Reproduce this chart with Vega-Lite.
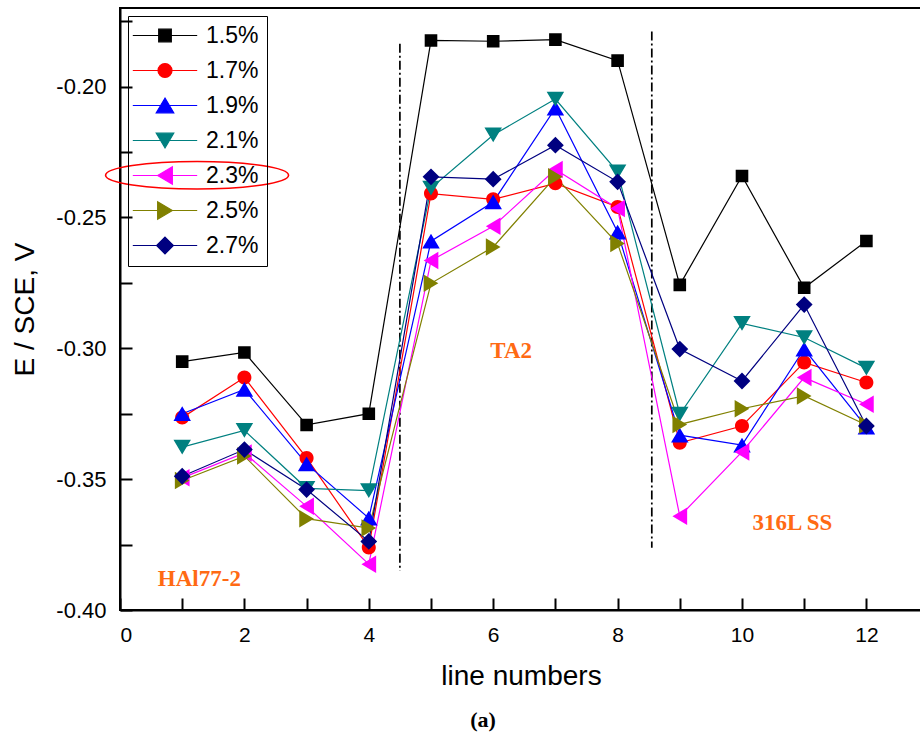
{
  "$schema": "https://vega.github.io/schema/vega-lite/v6.json",
  "width": 802,
  "height": 602,
  "autosize": {"type": "none"},
  "padding": {"left": 120, "top": 8, "right": 0, "bottom": 125},
  "background": "white",
  "config": {
    "font": "Liberation Sans",
    "view": {"stroke": "black", "strokeWidth": 2},
    "axis": {"grid": false}
  },
  "title": {
    "text": "(a)",
    "orient": "bottom",
    "font": "Liberation Serif",
    "fontWeight": "bold",
    "fontSize": 22,
    "color": "black",
    "dx": -38,
    "offset": 20
  },
  "datasets": {
    "potential": [
      {"line": 1, "conc": "1.5%", "E": -0.3051}, {"line": 2, "conc": "1.5%", "E": -0.3016}, {"line": 3, "conc": "1.5%", "E": -0.3293}, {"line": 4, "conc": "1.5%", "E": -0.3250},
      {"line": 5, "conc": "1.5%", "E": -0.1824}, {"line": 6, "conc": "1.5%", "E": -0.1827}, {"line": 7, "conc": "1.5%", "E": -0.1821}, {"line": 8, "conc": "1.5%", "E": -0.1901},
      {"line": 9, "conc": "1.5%", "E": -0.2758}, {"line": 10, "conc": "1.5%", "E": -0.2342}, {"line": 11, "conc": "1.5%", "E": -0.2769}, {"line": 12, "conc": "1.5%", "E": -0.2590},

      {"line": 1, "conc": "1.7%", "E": -0.3265}, {"line": 2, "conc": "1.7%", "E": -0.3112}, {"line": 3, "conc": "1.7%", "E": -0.3419}, {"line": 4, "conc": "1.7%", "E": -0.3761},
      {"line": 5, "conc": "1.7%", "E": -0.2409}, {"line": 6, "conc": "1.7%", "E": -0.2431}, {"line": 7, "conc": "1.7%", "E": -0.2370}, {"line": 8, "conc": "1.7%", "E": -0.2460},
      {"line": 9, "conc": "1.7%", "E": -0.3361}, {"line": 10, "conc": "1.7%", "E": -0.3297}, {"line": 11, "conc": "1.7%", "E": -0.3054}, {"line": 12, "conc": "1.7%", "E": -0.3131},

      {"line": 1, "conc": "1.9%", "E": -0.3250}, {"line": 2, "conc": "1.9%", "E": -0.3157}, {"line": 3, "conc": "1.9%", "E": -0.3442}, {"line": 4, "conc": "1.9%", "E": -0.3649},
      {"line": 5, "conc": "1.9%", "E": -0.2591}, {"line": 6, "conc": "1.9%", "E": -0.2441}, {"line": 7, "conc": "1.9%", "E": -0.2083}, {"line": 8, "conc": "1.9%", "E": -0.2556},
      {"line": 9, "conc": "1.9%", "E": -0.3332}, {"line": 10, "conc": "1.9%", "E": -0.3370}, {"line": 11, "conc": "1.9%", "E": -0.3003}, {"line": 12, "conc": "1.9%", "E": -0.3301},

      {"line": 1, "conc": "2.1%", "E": -0.3378}, {"line": 2, "conc": "2.1%", "E": -0.3314}, {"line": 3, "conc": "2.1%", "E": -0.3535}, {"line": 4, "conc": "2.1%", "E": -0.3544},
      {"line": 5, "conc": "2.1%", "E": -0.2388}, {"line": 6, "conc": "2.1%", "E": -0.2185}, {"line": 7, "conc": "2.1%", "E": -0.2048}, {"line": 8, "conc": "2.1%", "E": -0.2326},
      {"line": 9, "conc": "2.1%", "E": -0.3252}, {"line": 10, "conc": "2.1%", "E": -0.2905}, {"line": 11, "conc": "2.1%", "E": -0.2959}, {"line": 12, "conc": "2.1%", "E": -0.3076},

      {"line": 1, "conc": "2.3%", "E": -0.3495}, {"line": 2, "conc": "2.3%", "E": -0.3400}, {"line": 3, "conc": "2.3%", "E": -0.3604}, {"line": 4, "conc": "2.3%", "E": -0.3825},
      {"line": 5, "conc": "2.3%", "E": -0.2665}, {"line": 6, "conc": "2.3%", "E": -0.2534}, {"line": 7, "conc": "2.3%", "E": -0.2317}, {"line": 8, "conc": "2.3%", "E": -0.2466},
      {"line": 9, "conc": "2.3%", "E": -0.3642}, {"line": 10, "conc": "2.3%", "E": -0.3396}, {"line": 11, "conc": "2.3%", "E": -0.3112}, {"line": 12, "conc": "2.3%", "E": -0.3214},

      {"line": 1, "conc": "2.5%", "E": -0.3505}, {"line": 2, "conc": "2.5%", "E": -0.3412}, {"line": 3, "conc": "2.5%", "E": -0.3651}, {"line": 4, "conc": "2.5%", "E": -0.3687},
      {"line": 5, "conc": "2.5%", "E": -0.2752}, {"line": 6, "conc": "2.5%", "E": -0.2613}, {"line": 7, "conc": "2.5%", "E": -0.2345}, {"line": 8, "conc": "2.5%", "E": -0.2600},
      {"line": 9, "conc": "2.5%", "E": -0.3291}, {"line": 10, "conc": "2.5%", "E": -0.3231}, {"line": 11, "conc": "2.5%", "E": -0.3182}, {"line": 12, "conc": "2.5%", "E": -0.3293},

      {"line": 1, "conc": "2.7%", "E": -0.3489}, {"line": 2, "conc": "2.7%", "E": -0.3387}, {"line": 3, "conc": "2.7%", "E": -0.3540}, {"line": 4, "conc": "2.7%", "E": -0.3738},
      {"line": 5, "conc": "2.7%", "E": -0.2345}, {"line": 6, "conc": "2.7%", "E": -0.2354}, {"line": 7, "conc": "2.7%", "E": -0.2224}, {"line": 8, "conc": "2.7%", "E": -0.2364},
      {"line": 9, "conc": "2.7%", "E": -0.3003}, {"line": 10, "conc": "2.7%", "E": -0.3125}, {"line": 11, "conc": "2.7%", "E": -0.2833}, {"line": 12, "conc": "2.7%", "E": -0.3297}
    ],
    "dividers": [
      {"line": 4.5, "top": -0.1837, "bottom": -0.3851},
      {"line": 8.55, "top": -0.1790, "bottom": -0.3762}
    ],
    "materials": [
      {"line": 1.276, "E": -0.3908, "name": "HAl77-2"},
      {"line": 6.29, "E": -0.3036, "name": "TA2"},
      {"line": 10.81, "E": -0.3695, "name": "316L SS"}
    ],
    "highlight": [
      {"line": 1.239, "E": -0.2339}
    ]
  },
  "encoding": {
    "x": {
      "field": "line",
      "type": "quantitative",
      "scale": {"domain": [0, 12.894], "nice": false, "zero": false},
      "axis": {
        "title": "line numbers",
        "titleFont": "Liberation Sans",
        "titleFontSize": 28,
        "titleFontWeight": "normal",
        "titleColor": "black",
        "titlePadding": 17,
        "values": [0, 1, 2, 3, 4, 5, 6, 7, 8, 9, 10, 11, 12],
        "labelExpr": "datum.value % 2 == 0 ? datum.label : ''",
        "labelFont": "Liberation Sans",
        "labelFontSize": 21,
        "labelColor": "black",
        "labelPadding": 26,
        "domainColor": "black",
        "domainWidth": 2,
        "tickColor": "black",
        "tickWidth": 2,
        "tickSize": -12,
        "encode": {
          "ticks": {
            "update": {
              "y2": {"signal": "datum.value % 2 == 1 ? -7 : -12"}
            }
          }
        }
      }
    },
    "y": {
      "field": "E",
      "type": "quantitative",
      "scale": {"domain": [-0.4, -0.17], "nice": false, "zero": false},
      "axis": {
        "title": "E / SCE, V",
        "titleFont": "Liberation Sans",
        "titleFontSize": 28,
        "titleFontWeight": "normal",
        "titleColor": "black",
        "titlePadding": 16,
        "values": [-0.4, -0.375, -0.35, -0.325, -0.3, -0.275, -0.25, -0.225, -0.2, -0.175],
        "labelExpr": "abs(round(datum.value * 1000)) % 50 == 0 ? replace(format(datum.value, '.2f'), '\u2212', '-') : ''",
        "labelFont": "Liberation Sans",
        "labelFontSize": 22,
        "labelColor": "black",
        "labelPadding": 26,
        "domainColor": "black",
        "domainWidth": 2,
        "tickColor": "black",
        "tickWidth": 2,
        "tickSize": -12,
        "encode": {
          "ticks": {
            "update": {
              "x2": {"signal": "abs(round(datum.value * 1000)) % 50 == 25 ? 7 : 12"}
            }
          }
        }
      }
    }
  },
  "layer": [
    {
      "data": {"name": "dividers"},
      "mark": {"type": "rule", "color": "black", "strokeWidth": 1.7, "strokeDash": [9, 3, 2, 3]},
      "encoding": {
        "y": {"field": "top", "type": "quantitative"},
        "y2": {"field": "bottom"}
      }
    },
    {
      "data": {"name": "potential"},
      "mark": {"type": "line", "strokeWidth": 1.2},
      "encoding": {
        "color": {
          "field": "conc",
          "type": "nominal",
          "sort": ["1.5%", "1.7%", "1.9%", "2.1%", "2.3%", "2.5%", "2.7%"],
          "scale": {
            "domain": ["1.5%", "1.7%", "1.9%", "2.1%", "2.3%", "2.5%", "2.7%"],
            "range": ["#000000", "#FF0000", "#0000FF", "#008080", "#FF00FF", "#808000", "#000080"]
          }
        }
      }
    },
    {
      "data": {"name": "potential"},
      "mark": {"type": "point", "filled": true, "opacity": 1, "size": 196},
      "encoding": {
        "color": {
          "field": "conc",
          "type": "nominal",
          "sort": ["1.5%", "1.7%", "1.9%", "2.1%", "2.3%", "2.5%", "2.7%"],
          "scale": {
            "domain": ["1.5%", "1.7%", "1.9%", "2.1%", "2.3%", "2.5%", "2.7%"],
            "range": ["#000000", "#FF0000", "#0000FF", "#008080", "#FF00FF", "#808000", "#000080"]
          },
          "legend": {
            "title": null,
            "orient": "none",
            "legendX": 8,
            "legendY": 8,
            "padding": 8,
            "rowPadding": 11,
            "strokeColor": "black",
            "fillColor": "transparent",
            "labelFont": "Liberation Sans",
            "labelFontSize": 23,
            "labelColor": "black",
            "labelOffset": 29.5,
            "symbolOffset": 17.5,
            "symbolSize": 196,
            "symbolOpacity": 1,
            "symbolStrokeWidth": 1.2,
            "encode": {
              "symbols": {
                "update": {
                  "stroke": {"signal": "scale('color', datum.value)"},
                  "strokeWidth": {"value": 1.2}
                }
              }
            }
          }
        },
        "shape": {
          "field": "conc",
          "type": "nominal",
          "sort": ["1.5%", "1.7%", "1.9%", "2.1%", "2.3%", "2.5%", "2.7%"],
          "scale": {
            "domain": ["1.5%", "1.7%", "1.9%", "2.1%", "2.3%", "2.5%", "2.7%"],
            "range": [
              "M-0.9,-0.9H0.9V0.9H-0.9Z M-4.6,0H4.6",
              "M-1,0A1,1,0,1,0,1,0A1,1,0,1,0,-1,0Z M-4.6,0H4.6",
              "M0,-1.05L1.25,1.05L-1.25,1.05Z M-4.6,0H4.6",
              "M0,1.05L1.25,-1.05L-1.25,-1.05Z M-4.6,0H4.6",
              "M-1.05,0L1.05,-1.25L1.05,1.25Z M-4.6,0H4.6",
              "M1.05,0L-1.05,-1.25L-1.05,1.25Z M-4.6,0H4.6",
              "M0,-1.2L1.2,0L0,1.2L-1.2,0Z M-4.6,0H4.6"
            ]
          }
        }
      }
    },
    {
      "data": {"name": "materials"},
      "mark": {"type": "text", "font": "Liberation Serif", "fontWeight": "bold", "fontSize": 23, "color": "#FF6A13", "align": "center", "baseline": "alphabetic"},
      "encoding": {"text": {"field": "name"}}
    },
    {
      "data": {"name": "highlight"},
      "mark": {"type": "point", "filled": false, "opacity": 1, "color": "#FF0000", "strokeWidth": 1.6, "size": 33489, "shape": "M-1,0A1,0.15,0,1,0,1,0A1,0.15,0,1,0,-1,0Z"},
      "encoding": {}
    }
  ]
}
